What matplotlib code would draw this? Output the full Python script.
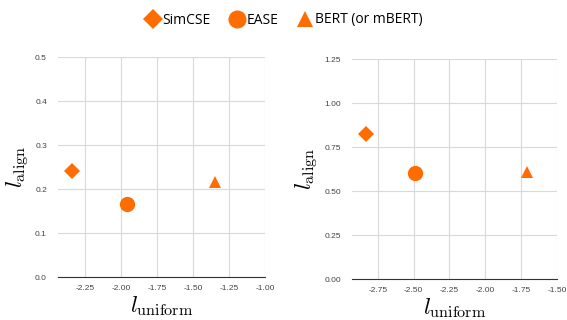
import matplotlib

matplotlib.use("Agg")
import matplotlib.pyplot as plt
from matplotlib.lines import Line2D

plt.rcParams["mathtext.fontset"] = "cm"
plt.rcParams["font.family"] = "Liberation Sans"

# Data
models = ["SimCSE", "EASE", "BERT (or mBERT)"]
markers = ["D", "o", "^"]
marker_sizes = [8, 11, 9]

left_uniform = [-2.34, -1.96, -1.35]
left_align = [0.24, 0.166, 0.215]

right_uniform = [-2.83, -2.49, -1.71]
right_align = [0.825, 0.60, 0.61]

left_xticks = [-2.25, -2.00, -1.75, -1.50, -1.25, -1.00]
left_yticks = [0.0, 0.1, 0.2, 0.3, 0.4, 0.5]
right_xticks = [-2.75, -2.50, -2.25, -2.00, -1.75, -1.50]
right_yticks = [0.00, 0.25, 0.50, 0.75, 1.00, 1.25]

ORANGE = "#ff6d01"
GRID = "#d9d9d9"
TICK = "#444444"


def style_axis(axis, xticks, yticks, xlim, ylim, xfmt, yfmt):
    axis.set_xlim(*xlim)
    axis.set_ylim(*ylim)
    axis.set_xticks(xticks)
    axis.set_yticks(yticks)
    axis.set_xticklabels([xfmt.format(v) for v in xticks])
    axis.set_yticklabels([yfmt.format(v) for v in yticks])
    axis.grid(True, color=GRID, linewidth=0.8)
    axis.set_axisbelow(True)
    for side in ["top", "right", "left"]:
        axis.spines[side].set_visible(False)
    axis.spines["bottom"].set_color("#333333")
    axis.spines["bottom"].set_linewidth(0.8)
    axis.tick_params(length=0, labelsize=6, labelcolor=TICK)
    axis.tick_params(axis="y", pad=8)
    axis.tick_params(axis="x", pad=6)
    axis.set_xlabel(r"$l_{\mathrm{uniform}}$", fontsize=16.5, labelpad=1)
    axis.set_ylabel(r"$l_{\mathrm{align}}$", fontsize=16.5, labelpad=2)


figure = plt.figure(figsize=(5.67, 3.2), dpi=100)
left = figure.add_axes([58 / 567, 1 - 277 / 320, 207 / 567, 220 / 320])
right = figure.add_axes([352 / 567, 1 - 279 / 320, 205 / 567, 220 / 320])

for axis, xs, ys in [(left, left_uniform, left_align), (right, right_uniform, right_align)]:
    for x, y, marker, size in zip(xs, ys, markers, marker_sizes):
        axis.plot(x, y, marker=marker, markersize=size, color=ORANGE,
                  markeredgewidth=0, linestyle="none", clip_on=False)

style_axis(left, left_xticks, left_yticks, (-2.44, -1.00), (0, 0.5), "{:.2f}", "{:.1f}")
style_axis(right, right_xticks, right_yticks, (-2.93, -1.50), (0, 1.25), "{:.2f}", "{:.2f}")

handles = [
    Line2D([], [], marker=m, markersize=s + 2, color=ORANGE, markeredgewidth=0, linestyle="none")
    for m, s in zip(markers, marker_sizes)
]
figure.legend(
    handles,
    models,
    loc="center",
    bbox_to_anchor=(0.5, 1 - 20 / 320),
    ncol=3,
    frameon=False,
    prop={"family": "Open Sans", "size": 10},
    handletextpad=0.1,
    columnspacing=1.3,
    handlelength=1.2,
)

figure.savefig("out.png", dpi=100)
plt.close(figure)
